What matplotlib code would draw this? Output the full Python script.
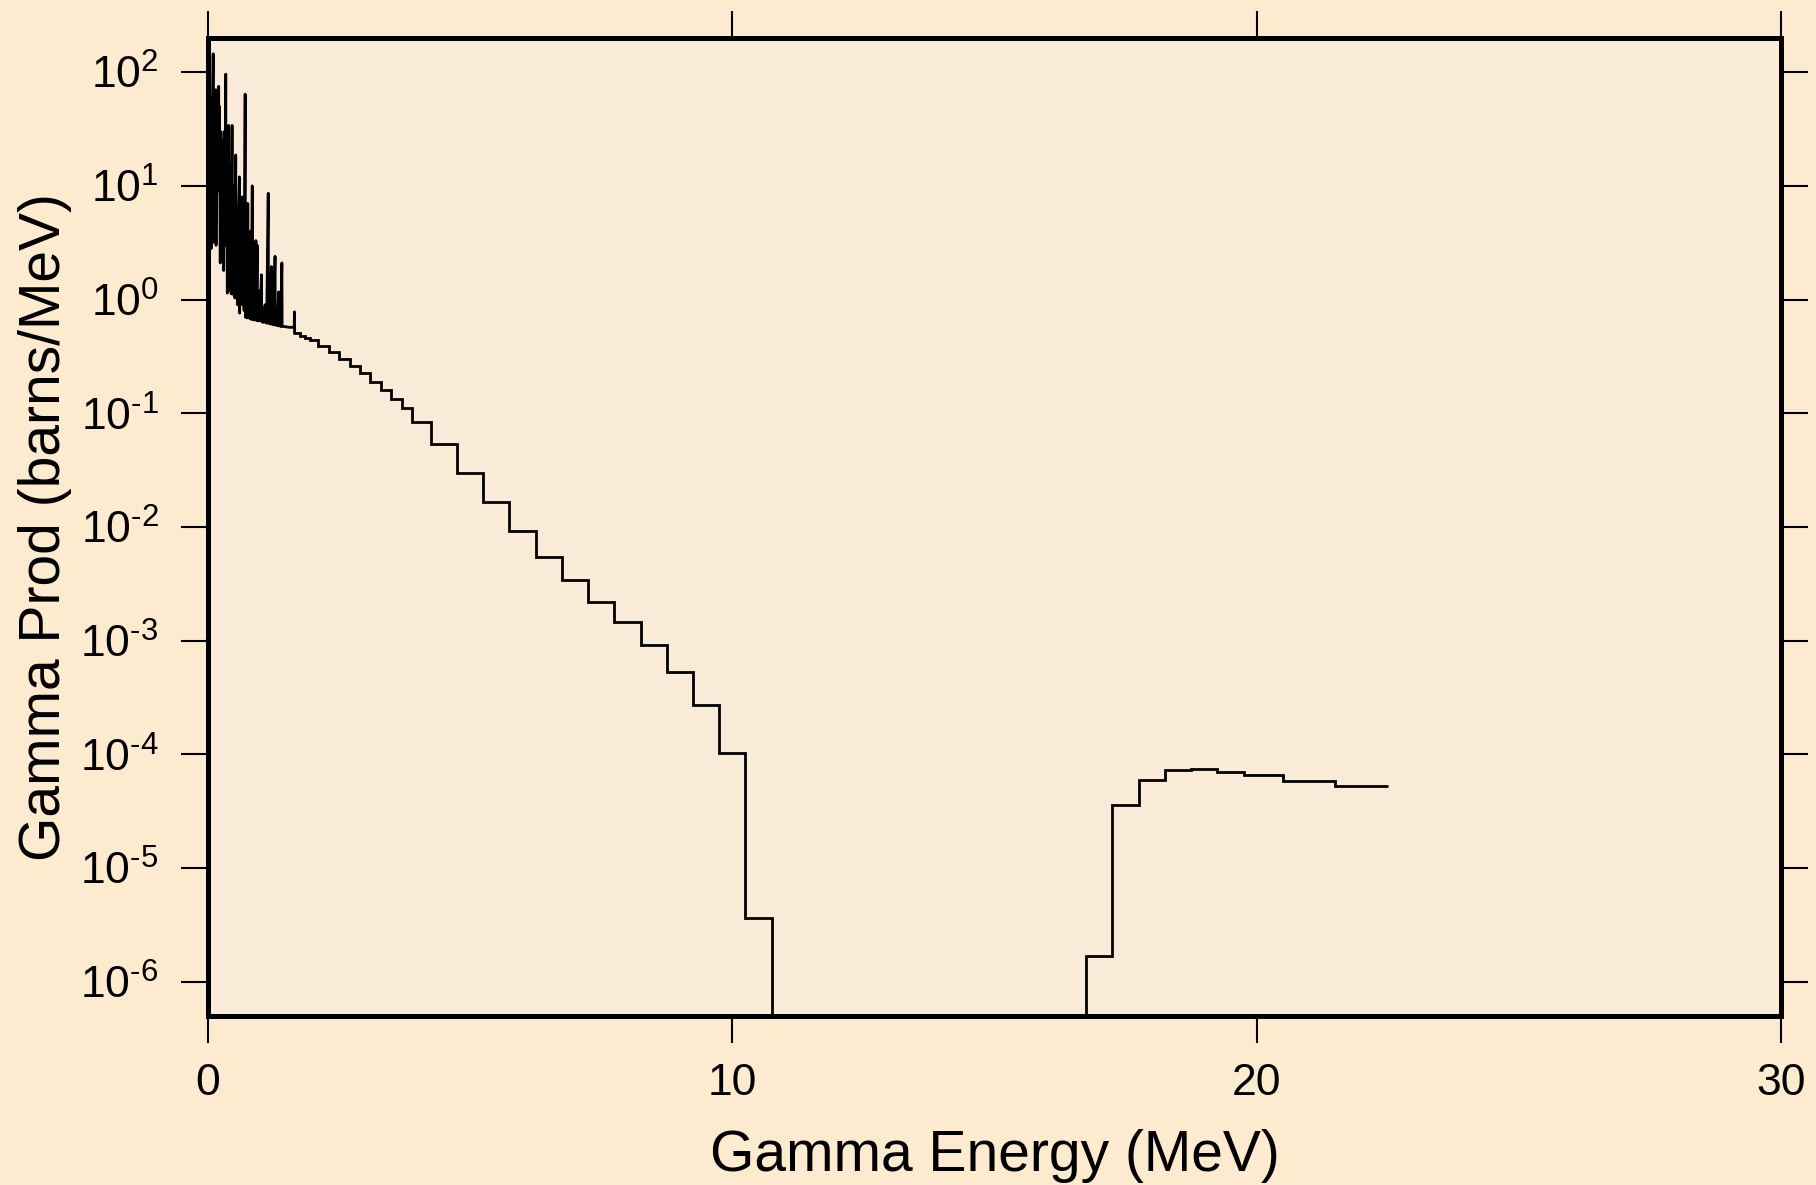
import numpy as np
import matplotlib
matplotlib.use("Agg")
import matplotlib.pyplot as plt
from matplotlib.ticker import FuncFormatter

plt.rcParams['font.family'] = ['Liberation Sans', 'DejaVu Sans']
plt.rcParams['mathtext.default'] = 'regular'
plt.rcParams['axes.unicode_minus'] = False

# discrete gamma lines below ~1.65 MeV (energy in MeV, barns/MeV)
line_e = [0.000, 0.010, 0.020, 0.030, 0.040, 0.050, 0.060, 0.070, 0.080, 0.090,
          0.100, 0.105, 0.115, 0.125, 0.135, 0.150, 0.155, 0.165, 0.175, 0.190,
          0.205, 0.210, 0.220, 0.235, 0.245, 0.255, 0.265, 0.280, 0.290, 0.300,
          0.310, 0.325, 0.340, 0.345, 0.355, 0.370, 0.380, 0.395, 0.400, 0.410,
          0.420, 0.430, 0.445, 0.460, 0.465, 0.475, 0.490, 0.500, 0.515, 0.530,
          0.535, 0.550, 0.565, 0.580, 0.600, 0.605, 0.620, 0.635, 0.650, 0.660,
          0.675, 0.690, 0.710, 0.715, 0.730, 0.745, 0.760, 0.770, 0.785, 0.800,
          0.815, 0.830, 0.845, 0.850, 0.870, 0.885, 0.900, 0.915, 0.920, 0.940,
          0.945, 0.965, 0.980, 1.000, 1.020, 1.025, 1.050, 1.090, 1.095, 1.120,
          1.150, 1.155, 1.180, 1.210, 1.215, 1.250, 1.280, 1.285, 1.320, 1.350,
          1.355, 1.390, 1.410, 1.415, 1.450, 1.500, 1.550, 1.600, 1.645, 1.650,
          1.652]
line_v = [3.0, 50, 2.6, 40, 3.5, 60, 2.8, 30, 4.5, 55,
          145, 3.2, 45, 6.0, 38, 70, 3.0, 40, 9.0, 35,
          75, 9.0, 50, 2.1, 30, 2.6, 20, 8.0, 25, 1.8,
          30, 5.0, 96, 3.0, 20, 1.14, 25, 34, 1.2, 12,
          1.6, 15, 1.12, 34, 1.3, 10, 1.1, 8.0, 1.03, 18.7,
          1.2, 6.0, 0.9, 5.0, 12, 0.76, 4.0, 1.1, 8.0, 0.9,
          3.0, 0.8, 64, 0.7, 5.0, 0.69, 7.0, 0.7, 2.5, 0.68,
          4.0, 0.67, 10, 0.67, 1.5, 0.66, 2.0, 3.3, 0.66, 3.0,
          0.65, 1.2, 0.65, 0.9, 1.65, 0.64, 0.63, 0.90, 0.63, 0.62,
          8.6, 0.62, 0.61, 1.95, 0.61, 0.60, 2.4, 0.60, 0.59, 1.17,
          0.59, 0.58, 2.1, 0.58, 0.58, 0.575, 0.57, 0.57, 0.57, 0.78,
          0.506]

# group-wise continuum above 1.65 MeV
bin_edges = [1.65, 1.75, 1.85, 1.95, 2.1, 2.3, 2.5, 2.7, 2.9, 3.1, 3.3, 3.5, 3.7,
             3.9, 4.25, 4.75, 5.25, 5.75, 6.25, 6.75, 7.25, 7.75, 8.25, 8.75,
             9.25, 9.75, 10.25, 10.75, 16.75, 17.25, 17.75, 18.25, 18.75, 19.25,
             19.75, 20.5, 21.5, 22.5]
bin_vals = [0.506, 0.48, 0.46, 0.44, 0.39, 0.348, 0.30, 0.26, 0.228, 0.190,
            0.160, 0.133, 0.111, 0.0843, 0.0533, 0.0301, 0.0167, 0.00929,
            0.00545, 0.00342, 0.00220, 0.00146, 9.18e-4, 5.28e-4, 2.71e-4,
            1.02e-4, 3.62e-6, 1e-12, 1.70e-6, 3.57e-5, 5.96e-5, 7.34e-5,
            7.45e-5, 6.97e-5, 6.59e-5, 5.87e-5, 5.32e-5]

x_ticks = [0, 10, 20, 30]
y_exps = [-6, -5, -4, -3, -2, -1, 0, 1, 2]


def decade_label(v, pos):
    # hyphen (U+2010) instead of the mathtext minus glyph
    k = int(round(np.log10(v)))
    s = str(abs(k))
    if k < 0:
        s = '\u2010' + s
    return '10$^{' + s + '}$'


fig = plt.figure(figsize=(18.16, 11.85), dpi=100, facecolor='#FDEBD0')
ax = fig.add_axes([0.1145, 0.1426, 0.8662, 0.8254], facecolor='#FAEBD8')

ax.plot(line_e, line_v, color='black', lw=2)
ax.stairs(bin_vals, bin_edges, baseline=None, color='black', lw=2)

ax.set_yscale('log')
ax.set_xlim(0, 30)
ax.set_ylim(5e-7, 200)
ax.set_xticks(x_ticks)
ax.set_yticks([10.0 ** k for k in y_exps])
ax.yaxis.set_major_formatter(FuncFormatter(decade_label))
ax.minorticks_off()

for s in ax.spines.values():
    s.set_linewidth(3.6)
ax.tick_params(which='major', direction='out', length=19.5, width=1.5,
               labelsize=32, top=True, right=True, pad=14)
ax.tick_params(axis='y', pad=16)

ax.set_xlabel('Gamma Energy (MeV)', fontsize=41, labelpad=18)
ax.set_ylabel('Gamma Prod (barns/MeV)', fontsize=41, labelpad=6)

fig.savefig('out.png', dpi=100, facecolor=fig.get_facecolor())
